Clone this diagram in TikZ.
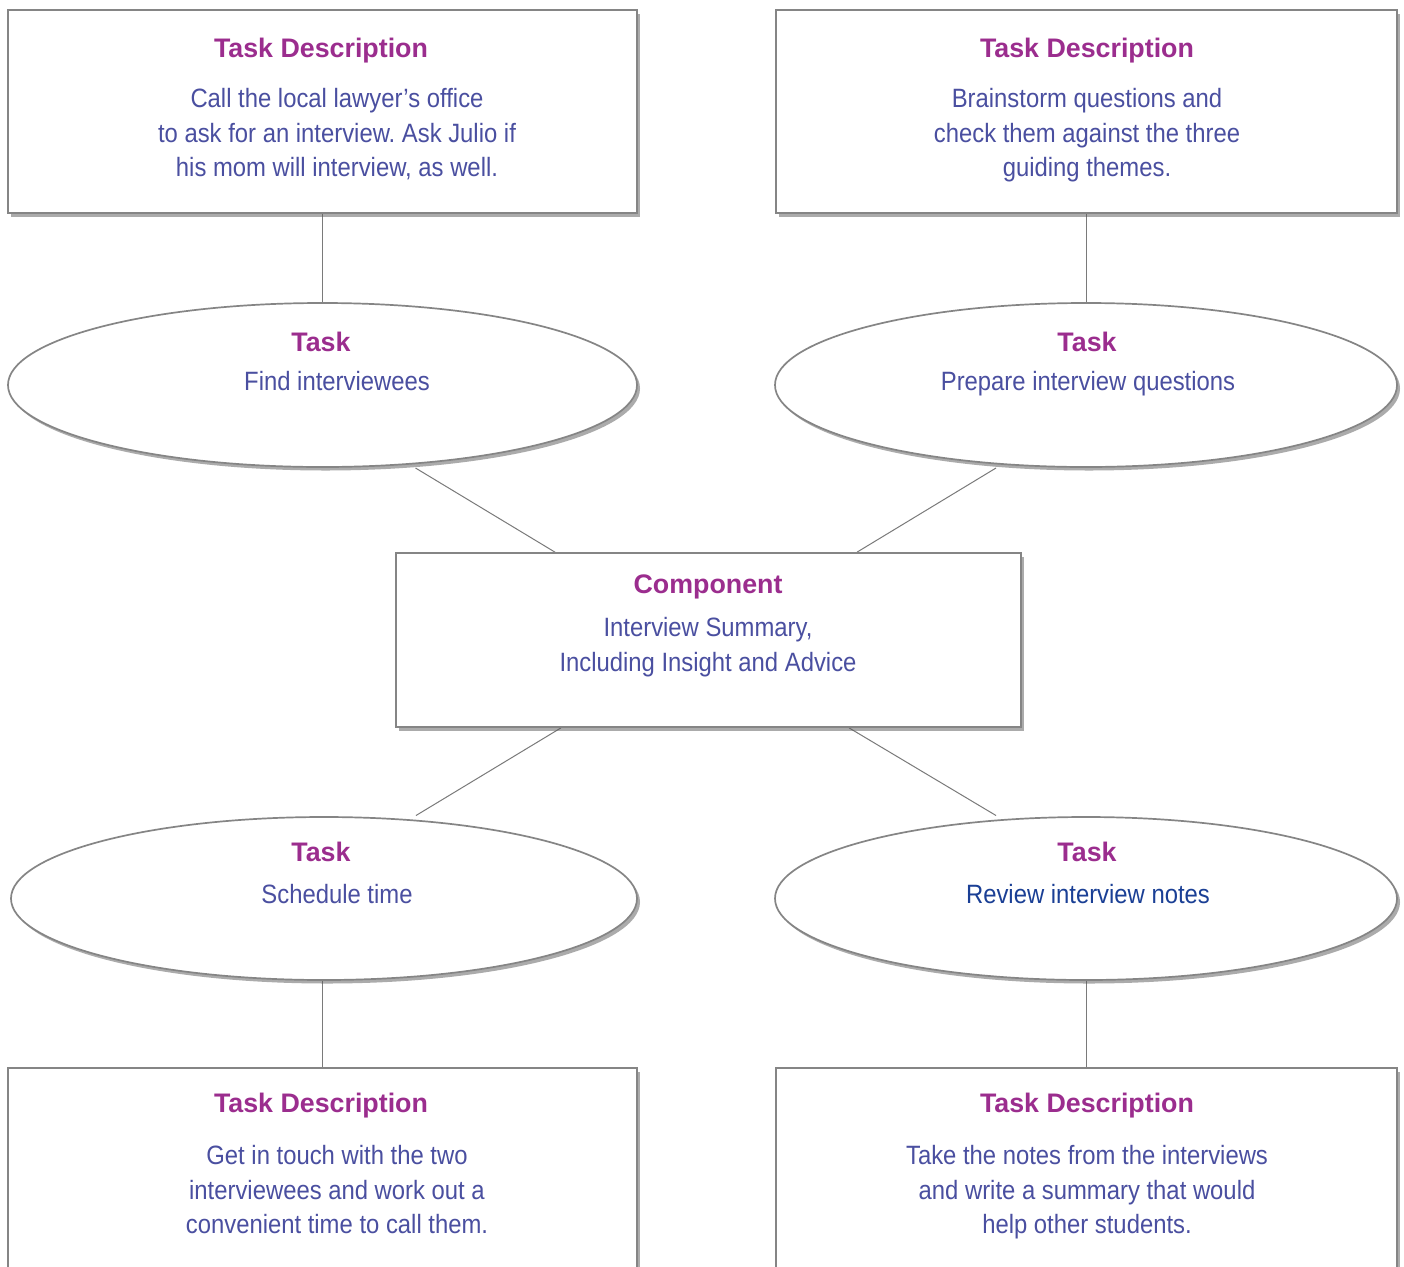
\documentclass[tikz,border=0pt]{standalone}
\usepackage{fontspec}
\setmainfont{Liberation Sans}
\newfontfamily\bodyfont[FakeStretch=0.9]{Liberation Sans}
\usetikzlibrary{shapes.geometric,shadows,calc}
\definecolor{ttl}{HTML}{9B2D8E}
\definecolor{bdy}{HTML}{4A4FA0}
\definecolor{bdydark}{HTML}{1A3F95}
\definecolor{edge}{HTML}{858585}
\definecolor{linkc}{HTML}{7A7A7A}
\pgfdeclarelayer{bg}
\pgfsetlayers{bg,main}
\frenchspacing
\begin{document}
\begin{tikzpicture}[x=1pt,y=-1pt,
  shad/.style={drop shadow={shadow xshift=3pt, shadow yshift=-3.5pt, fill=black!65, opacity=0.5}},
  box/.style={rectangle, draw=edge, line width=1.7pt, fill=white, inner sep=0pt, shad},
  oval/.style={ellipse, draw=edge, line width=1.7pt, fill=white, inner sep=0pt, shad},
  ttltext/.style={anchor=north, inner sep=0pt, font=\fontsize{26.8}{34.5}\selectfont\bfseries, text=ttl},
  bodytext/.style={anchor=north, inner sep=0pt, align=center, font=\bodyfont\fontsize{26.5}{34.5}\selectfont, text=bdy},
  link/.style={draw=linkc, line width=1pt}]
\useasboundingbox (0,0) rectangle (1404,1266);
\clip (0,0) rectangle (1404,1266);

% boxes and ellipses
\node[box, minimum width=629pt, minimum height=203pt] (box1) at (322.5,111.5) {};
\node[box, minimum width=621pt, minimum height=203pt] (box2) at (1086.5,111.5) {};
\node[oval, minimum width=629pt, minimum height=164pt] (e1) at (322.5,385) {};
\node[oval, minimum width=622pt, minimum height=164pt] (e2) at (1086,385) {};
\node[box, minimum width=625pt, minimum height=174pt] (comp) at (708.5,640) {};
\node[oval, minimum width=626pt, minimum height=163pt] (e3) at (324,898.5) {};
\node[oval, minimum width=622pt, minimum height=163pt] (e4) at (1086,898.5) {};
\node[box, minimum width=629pt, minimum height=240pt] (box3) at (322.5,1188) {};
\node[box, minimum width=621pt, minimum height=240pt] (box4) at (1086.5,1188) {};

% background and connectors
\begin{pgfonlayer}{bg}
\fill[white] (0,0) rectangle (1404,1266);
\draw[link] (box1.south) -- (e1.north);
\draw[link] (box2.south) -- (box2.south |- e2.north);
\draw[link] ($(e1.center)+(93,83)$) -- ($(comp.north)+(-153.5,0)$);
\draw[link] ($(e2.center)+(-90,83)$) -- ($(comp.north)+(148.5,0)$);
\draw[link] ($(comp.south)+(-147.5,0)$) -- ($(e3.center)+(92,-83)$);
\draw[link] ($(comp.south)+(140.5,0)$) -- ($(e4.center)+(-90,-83)$);
\draw[link] (box3.north -| box1.south) -- (e3.south -| box1.south);
\draw[link] (box4.north) -- (box4.north |- e4.south);
\end{pgfonlayer}

% texts
\node[ttltext] (t1) at (321,37.5) {Task Description};
\node[bodytext] (b1) at (337,88.5) {Call the local lawyer’s office\\to ask for an interview. Ask Julio if\\his mom will interview, as well.};
\node[ttltext] (t2) at (1087,37.5) {Task Description};
\node[bodytext] (b2) at (1087,88.5) {Brainstorm questions and\\check them against the three\\guiding themes.};

\node[ttltext] (t3) at (321,331.5) {Task};
\node[bodytext] (b3) at (337,371.5) {Find interviewees};
\node[ttltext] (t4) at (1087,331.5) {Task};
\node[bodytext] (b4) at (1088,371.5) {Prepare interview questions};

\node[ttltext] (t5) at (708,574.5) {Component};
\node[bodytext] (b5) at (708,617.5) {Interview Summary,\\Including Insight and Advice};

\node[ttltext] (t6) at (321,841.5) {Task};
\node[bodytext] (b6) at (337,884.5) {Schedule time};
\node[ttltext] (t7) at (1087,841.5) {Task};
\node[bodytext, text=bdydark] (b7) at (1088,884.5) {Review interview notes};

\node[ttltext] (t8) at (321,1092.5) {Task Description};
\node[bodytext] (b8) at (337,1145.5) {Get in touch with the two\\interviewees and work out a\\convenient time to call them.};
\node[ttltext] (t9) at (1087,1092.5) {Task Description};
\node[bodytext] (b9) at (1087,1145.5) {Take the notes from the interviews\\and write a summary that would\\help other students.};
\end{tikzpicture}
\end{document}
